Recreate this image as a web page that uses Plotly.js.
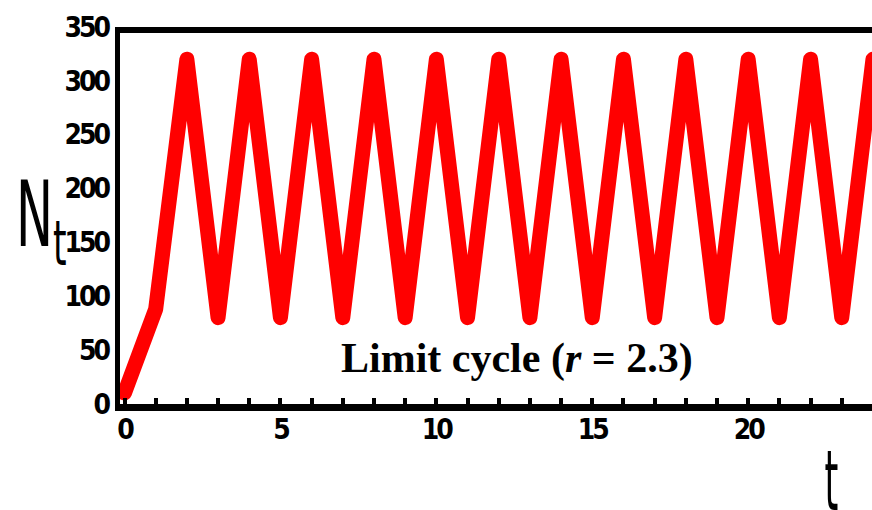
<!DOCTYPE html>
<html>
<head>
<meta charset="utf-8">
<script src="https://cdn.plot.ly/plotly-3.0.1.min.js"></script>
<style>
  html, body { margin: 0; padding: 0; background: #ffffff; }
  #chart { width: 872px; height: 510px; }
  .scatterlayer .js-line { stroke-linejoin: round !important; stroke-linecap: round !important; }
  .xtick text, .ytick text { letter-spacing: -3px; }
  .annotation[data-index="1"] text.annotation-text { transform-box: fill-box; transform-origin: 0% 50%; transform: scaleX(0.55); }
  .annotation[data-index="2"] text.annotation-text { transform-box: fill-box; transform-origin: 50% 50%; transform: scaleX(0.42); }
</style>
</head>
<body>
<div id="chart"></div>
<script>
// Time steps (generations) and population size N_t
const timeSteps = [0, 1, 2, 3, 4, 5, 6, 7, 8, 9, 10, 11, 12, 13, 14, 15, 16, 17, 18, 19, 20, 21, 22, 23, 24];
const populationN = [10, 88, 320, 80, 320, 80, 320, 80, 320, 80, 320, 80, 320, 80, 320, 80, 320, 80, 320, 80, 320, 80, 320, 80, 320];

// Axis ticks and labels
const xTickValues = [0, 5, 10, 15, 20];
const xTickLabels = ["0", "5", "10", "15", "20"];
const yTickValues = [0, 50, 100, 150, 200, 250, 300, 350];
const yTickLabels = ["0", "50", "100", "150", "200", "250", "300", "350"];

// Texts
const yAxisTitle = "N<sub>t</sub>";
const xAxisTitle = "t";
const annotationText = "<b>Limit cycle (<i>r</i> = 2.3)</b>";

const tickFont = { family: "DejaVu Sans Condensed, DejaVu Sans, sans-serif", size: 28, weight: "bold", color: "#000000" };
const titleFontFamily = "DejaVu Sans, sans-serif";

const trace = {
  x: timeSteps,
  y: populationN,
  type: "scatter",
  mode: "lines",
  line: { color: "#ff0000", width: 15 },
  hoverinfo: "skip",
  showlegend: false
};

const layout = {
  width: 872,
  height: 510,
  margin: { l: 115, r: 0, t: 27, b: 103 },
  paper_bgcolor: "#ffffff",
  plot_bgcolor: "#ffffff",
  showlegend: false,
  xaxis: {
    range: [-0.305, 23.97],
    showgrid: false,
    zeroline: false,
    showline: false,
    tickmode: "array",
    tickvals: xTickValues,
    ticktext: xTickLabels,
    ticks: "inside",
    ticklen: 9,
    tickwidth: 4,
    tickcolor: "#000000",
    minor: { ticks: "inside", dtick: 1, tick0: 0, ticklen: 9, tickwidth: 4, tickcolor: "#000000", showgrid: false },
    tickfont: tickFont,
    ticklabelstandoff: 3
  },
  yaxis: {
    range: [-3, 350],
    showgrid: false,
    zeroline: false,
    showline: false,
    tickmode: "array",
    tickvals: yTickValues,
    ticktext: yTickLabels,
    ticks: "",
    tickfont: tickFont,
    ticklabelstandoff: 6
  },
  shapes: [
    { type: "line", xref: "paper", yref: "paper", x0: 0.0033, x1: 0.0033, y0: -0.0105, y1: 1.0, line: { color: "#000000", width: 5 } },
    { type: "line", xref: "paper", yref: "paper", x0: 0, x1: 1.01, y0: -0.0013, y1: -0.0013, line: { color: "#000000", width: 7 } },
    { type: "line", xref: "paper", yref: "paper", x0: 0, x1: 1.01, y0: 0.992, y1: 0.992, line: { color: "#000000", width: 6 } }
  ],
  annotations: [
    {
      text: annotationText,
      x: 12.6, y: 42, xref: "x", yref: "y",
      xanchor: "center", yanchor: "middle",
      showarrow: false,
      font: { family: "Liberation Serif, Times New Roman, serif", size: 42, color: "#000000" }
    },
    {
      text: yAxisTitle,
      x: -0.1334, y: 0.651, xref: "paper", yref: "paper",
      xanchor: "left", yanchor: "top",
      showarrow: false,
      font: { family: titleFontFamily, size: 90, color: "#000000" }
    },
    {
      text: xAxisTitle,
      x: 0.947, y: -0.0605, xref: "paper", yref: "paper",
      xanchor: "center", yanchor: "top",
      showarrow: false,
      font: { family: titleFontFamily, size: 84, color: "#000000" }
    }
  ]
};

Plotly.newPlot("chart", [trace], layout, { displayModeBar: false, staticPlot: true });
</script>
</body>
</html>
